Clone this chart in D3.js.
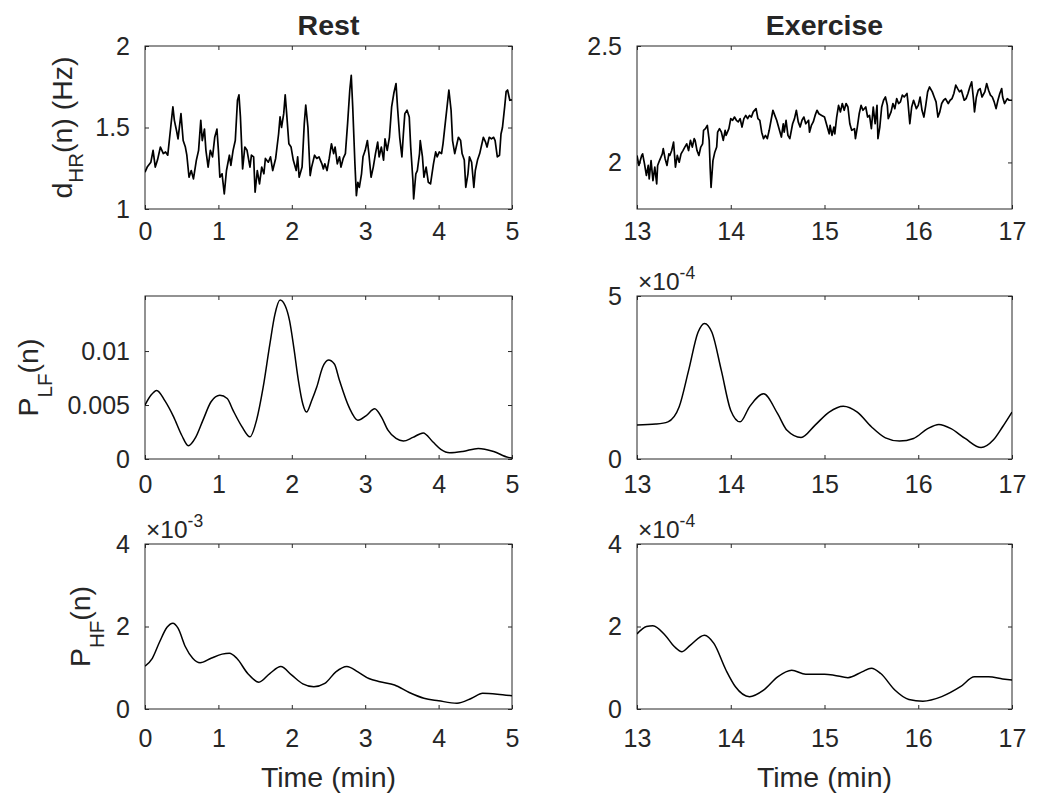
<!DOCTYPE html>
<html>
<head>
<meta charset="utf-8">
<script src="https://cdn.jsdelivr.net/npm/d3@7"></script>
<style>
  body { margin: 0; background: #fff; }
  svg { display: block; }
  text { font-family: Arial, "Liberation Sans", sans-serif; fill: #262626; }
</style>
</head>
<body>
<svg id="chart" width="1041" height="794"></svg>
<script>
// ---- data: [time (min), value] ----
const restHR = [[0,1.226],[0.03,1.257],[0.08,1.287],[0.11,1.36],[0.14,1.257],[0.17,1.30],[0.21,1.38],[0.25,1.34],[0.28,1.35],[0.31,1.33],[0.35,1.50],[0.38,1.626],[0.40,1.544],[0.43,1.48],[0.45,1.43],[0.49,1.585],[0.52,1.42],[0.55,1.38],[0.57,1.33],[0.60,1.195],[0.63,1.236],[0.66,1.185],[0.70,1.30],[0.73,1.36],[0.76,1.544],[0.78,1.42],[0.81,1.49],[0.83,1.36],[0.86,1.257],[0.89,1.36],[0.92,1.32],[0.95,1.44],[0.98,1.49],[1.00,1.36],[1.02,1.195],[1.05,1.216],[1.08,1.092],[1.11,1.236],[1.15,1.33],[1.17,1.267],[1.20,1.36],[1.23,1.42],[1.26,1.667],[1.28,1.70],[1.30,1.565],[1.33,1.246],[1.36,1.38],[1.39,1.36],[1.43,1.257],[1.45,1.33],[1.48,1.32],[1.50,1.103],[1.53,1.236],[1.56,1.154],[1.59,1.257],[1.62,1.216],[1.64,1.31],[1.68,1.287],[1.71,1.32],[1.74,1.236],[1.78,1.31],[1.82,1.46],[1.84,1.565],[1.86,1.50],[1.89,1.585],[1.91,1.70],[1.93,1.585],[1.96,1.40],[1.99,1.38],[2.02,1.30],[2.06,1.236],[2.08,1.32],[2.10,1.195],[2.14,1.257],[2.17,1.524],[2.19,1.637],[2.22,1.50],[2.25,1.205],[2.27,1.257],[2.31,1.33],[2.34,1.31],[2.37,1.32],[2.41,1.277],[2.43,1.246],[2.45,1.277],[2.48,1.236],[2.51,1.31],[2.54,1.40],[2.57,1.34],[2.59,1.38],[2.62,1.277],[2.65,1.32],[2.67,1.257],[2.70,1.31],[2.73,1.34],[2.76,1.524],[2.79,1.73],[2.81,1.82],[2.83,1.626],[2.86,1.277],[2.88,1.082],[2.90,1.164],[2.92,1.133],[2.95,1.216],[2.97,1.32],[3.00,1.36],[3.03,1.42],[3.05,1.34],[3.08,1.195],[3.11,1.257],[3.14,1.34],[3.17,1.41],[3.19,1.32],[3.22,1.38],[3.25,1.30],[3.27,1.43],[3.30,1.36],[3.33,1.44],[3.36,1.626],[3.39,1.71],[3.42,1.77],[3.44,1.626],[3.47,1.44],[3.50,1.32],[3.52,1.46],[3.54,1.585],[3.57,1.606],[3.60,1.565],[3.62,1.38],[3.65,1.175],[3.66,1.062],[3.69,1.216],[3.71,1.236],[3.74,1.34],[3.75,1.42],[3.78,1.32],[3.80,1.195],[3.83,1.257],[3.86,1.164],[3.89,1.154],[3.91,1.216],[3.93,1.277],[3.96,1.35],[3.98,1.32],[4.01,1.35],[4.04,1.34],[4.06,1.40],[4.09,1.524],[4.12,1.647],[4.14,1.73],[4.17,1.606],[4.19,1.42],[4.22,1.34],[4.24,1.38],[4.27,1.44],[4.30,1.42],[4.32,1.34],[4.35,1.30],[4.37,1.133],[4.40,1.216],[4.42,1.32],[4.45,1.287],[4.48,1.133],[4.50,1.236],[4.53,1.30],[4.56,1.34],[4.58,1.38],[4.61,1.44],[4.64,1.41],[4.66,1.38],[4.69,1.44],[4.72,1.43],[4.75,1.44],[4.77,1.42],[4.80,1.32],[4.83,1.33],[4.85,1.46],[4.87,1.50],[4.90,1.626],[4.92,1.72],[4.94,1.73],[4.97,1.667],[5.00,1.67]];

const exHR = [[13.00,2.03],[13.02,1.987],[13.05,2.03],[13.06,2.037],[13.08,1.994],[13.10,1.944],[13.12,1.987],[13.13,1.929],[13.15,2.008],[13.17,1.922],[13.19,1.98],[13.21,1.908],[13.22,1.987],[13.24,2.008],[13.27,2.037],[13.28,2.059],[13.30,2.016],[13.32,1.987],[13.34,2.037],[13.35,2.03],[13.37,2.051],[13.39,2.087],[13.41,1.98],[13.43,2.03],[13.45,2.001],[13.47,2.037],[13.49,2.051],[13.51,2.066],[13.53,2.08],[13.55,2.051],[13.57,2.095],[13.59,2.066],[13.61,2.102],[13.62,2.095],[13.64,2.051],[13.66,2.03],[13.68,2.066],[13.70,2.08],[13.71,2.138],[13.73,2.145],[13.75,2.159],[13.77,2.095],[13.78,1.98],[13.79,1.893],[13.81,2.008],[13.83,2.044],[13.85,2.066],[13.86,2.13],[13.88,2.145],[13.90,2.13],[13.92,2.095],[13.94,2.138],[13.95,2.116],[13.98,2.145],[14.00,2.188],[14.02,2.181],[14.04,2.195],[14.06,2.181],[14.08,2.174],[14.10,2.188],[14.12,2.152],[14.14,2.188],[14.16,2.202],[14.18,2.188],[14.20,2.202],[14.22,2.195],[14.24,2.217],[14.27,2.231],[14.29,2.188],[14.31,2.181],[14.33,2.13],[14.35,2.102],[14.37,2.116],[14.39,2.102],[14.41,2.138],[14.43,2.181],[14.45,2.224],[14.47,2.202],[14.49,2.181],[14.51,2.152],[14.54,2.109],[14.56,2.166],[14.57,2.13],[14.59,2.181],[14.61,2.116],[14.63,2.102],[14.66,2.166],[14.68,2.188],[14.70,2.224],[14.72,2.174],[14.74,2.152],[14.76,2.181],[14.78,2.195],[14.80,2.166],[14.83,2.181],[14.84,2.13],[14.86,2.159],[14.88,2.174],[14.90,2.202],[14.92,2.224],[14.94,2.209],[14.97,2.202],[15.00,2.195],[15.02,2.166],[15.05,2.123],[15.06,2.159],[15.08,2.116],[15.10,2.152],[15.11,2.123],[15.13,2.195],[15.15,2.245],[15.17,2.217],[15.19,2.253],[15.21,2.224],[15.23,2.253],[15.25,2.238],[15.27,2.166],[15.29,2.138],[15.32,2.145],[15.33,2.102],[15.35,2.152],[15.37,2.209],[15.39,2.245],[15.41,2.224],[15.44,2.238],[15.46,2.195],[15.48,2.202],[15.50,2.145],[15.52,2.238],[15.54,2.166],[15.56,2.245],[15.57,2.102],[15.59,2.152],[15.61,2.238],[15.63,2.267],[15.65,2.281],[15.67,2.245],[15.68,2.188],[15.71,2.217],[15.73,2.253],[15.75,2.231],[15.77,2.274],[15.79,2.253],[15.81,2.26],[15.83,2.289],[15.85,2.281],[15.88,2.296],[15.89,2.26],[15.91,2.166],[15.93,2.238],[15.95,2.267],[15.98,2.231],[16.00,2.245],[16.02,2.281],[16.04,2.224],[16.06,2.195],[16.08,2.245],[16.10,2.303],[16.12,2.324],[16.15,2.303],[16.17,2.281],[16.19,2.26],[16.21,2.195],[16.23,2.217],[16.25,2.253],[16.27,2.267],[16.29,2.274],[16.32,2.253],[16.34,2.267],[16.36,2.274],[16.38,2.296],[16.40,2.332],[16.42,2.317],[16.44,2.303],[16.46,2.31],[16.49,2.267],[16.51,2.274],[16.53,2.296],[16.55,2.324],[16.57,2.346],[16.59,2.267],[16.60,2.217],[16.62,2.281],[16.64,2.31],[16.66,2.317],[16.68,2.281],[16.71,2.303],[16.73,2.339],[16.75,2.31],[16.77,2.289],[16.79,2.281],[16.81,2.26],[16.83,2.231],[16.85,2.267],[16.87,2.296],[16.89,2.317],[16.90,2.281],[16.92,2.253],[16.95,2.274],[16.97,2.267],[17.00,2.267]];

const restLF = [[0,0.0050],[0.08,0.0059],[0.16,0.00635],[0.27,0.0054],[0.39,0.0039],[0.50,0.0022],[0.59,0.00123],[0.69,0.0020],[0.79,0.0036],[0.90,0.0053],[1.02,0.0059],[1.12,0.0056],[1.20,0.0045],[1.32,0.0030],[1.43,0.00205],[1.52,0.0036],[1.61,0.00665],[1.70,0.0106],[1.77,0.0134],[1.84,0.01472],[1.91,0.0142],[1.97,0.0128],[2.03,0.0102],[2.09,0.00727],[2.15,0.0051],[2.20,0.00435],[2.27,0.0054],[2.34,0.00666],[2.42,0.0085],[2.50,0.00917],[2.58,0.0088],[2.65,0.00727],[2.78,0.0048],[2.90,0.00359],[3.01,0.0040],[3.13,0.00466],[3.22,0.0039],[3.31,0.00267],[3.42,0.0019],[3.52,0.00166],[3.65,0.0020],[3.79,0.00242],[3.92,0.0016],[4.03,0.0009],[4.15,0.00058],[4.33,0.0007],[4.54,0.00098],[4.75,0.0007],[4.95,0.00015],[5.00,0.0001]];

// exercise LF power, in units of 1e-4
const exLF = [[13.0,1.04],[13.2,1.07],[13.33,1.14],[13.45,1.60],[13.55,2.71],[13.65,3.88],[13.72,4.16],[13.80,3.88],[13.90,2.71],[14.0,1.49],[14.1,1.14],[14.2,1.60],[14.35,2.00],[14.5,1.39],[14.6,0.88],[14.75,0.66],[14.9,1.04],[15.05,1.44],[15.2,1.62],[15.35,1.44],[15.5,0.99],[15.65,0.65],[15.8,0.55],[15.95,0.63],[16.1,0.93],[16.22,1.06],[16.35,0.93],[16.5,0.63],[16.67,0.35],[16.8,0.58],[16.9,0.99],[17.0,1.44]];

// rest HF power, in units of 1e-3
const restHF = [[0,1.04],[0.1,1.23],[0.2,1.63],[0.3,1.98],[0.38,2.08],[0.45,1.96],[0.55,1.51],[0.65,1.23],[0.75,1.12],[0.9,1.23],[1.05,1.33],[1.15,1.35],[1.25,1.23],[1.4,0.86],[1.55,0.65],[1.7,0.86],[1.85,1.03],[2.0,0.82],[2.15,0.61],[2.3,0.54],[2.45,0.62],[2.6,0.90],[2.75,1.03],[2.9,0.90],[3.05,0.74],[3.2,0.66],[3.4,0.58],[3.6,0.40],[3.8,0.26],[4.0,0.20],[4.25,0.14],[4.45,0.26],[4.6,0.38],[4.8,0.36],[5.0,0.32]];

// exercise HF power, in units of 1e-4
const exHF = [[13.0,1.82],[13.1,2.00],[13.17,2.02],[13.3,1.79],[13.4,1.51],[13.48,1.39],[13.57,1.55],[13.72,1.79],[13.82,1.59],[13.95,0.94],[14.05,0.54],[14.2,0.30],[14.35,0.46],[14.5,0.78],[14.65,0.94],[14.8,0.84],[15.0,0.84],[15.1,0.82],[15.25,0.76],[15.4,0.90],[15.5,0.99],[15.6,0.86],[15.75,0.46],[15.9,0.23],[16.05,0.19],[16.25,0.30],[16.45,0.54],[16.6,0.78],[16.75,0.78],[16.9,0.73],[17.0,0.70]];

const restXTicks = [0, 1, 2, 3, 4, 5];
const exXTicks = [13, 14, 15, 16, 17];
const titles = ["Rest", "Exercise"];

// ---- layout ----
const svg = d3.select("#chart");
const tickFont = 25, labelFont = 28.5;
const cols = [{ x0: 145, x1: 512 }, { x0: 637, x1: 1012 }];
const rows = [
  { y0: 46, y1: 209, xPad: 13 },
  { y0: 296, y1: 459, xPad: 16 },
  { y0: 544, y1: 709, xPad: 20 }
];

const panels = [
  { r: 0, c: 0, data: restHR, xd: [0, 5], yd: [1, 2], xt: restXTicks, yt: [1, 1.5, 2], curve: d3.curveLinear, lw: 1.7,
    ylab: ["d", "HR", "(n) (Hz)"], labX: 72, sub: 11 },
  { r: 0, c: 1, data: exHR, xd: [13, 17], yd: [1.8, 2.5], xt: exXTicks, yt: [2, 2.5], curve: d3.curveLinear, lw: 1.7 },
  { r: 1, c: 0, data: restLF, xd: [0, 5], yd: [0, 0.0151], xt: restXTicks, yt: [0, 0.005, 0.01], curve: d3.curveMonotoneX, lw: 1.5,
    ylab: ["P", "LF", "(n)"], labX: 38, sub: 14 },
  { r: 1, c: 1, data: exLF, xd: [13, 17], yd: [0, 5], xt: exXTicks, yt: [0, 5], curve: d3.curveMonotoneX, lw: 1.5, exp: "-4" },
  { r: 2, c: 0, data: restHF, xd: [0, 5], yd: [0, 4], xt: restXTicks, yt: [0, 2, 4], curve: d3.curveMonotoneX, lw: 1.5,
    ylab: ["P", "HF", "(n)"], labX: 90, sub: 14, exp: "-3" },
  { r: 2, c: 1, data: exHF, xd: [13, 17], yd: [0, 4], xt: exXTicks, yt: [0, 2, 4], curve: d3.curveMonotoneX, lw: 1.5, exp: "-4" }
];

const fmt = d3.format("~g");

panels.forEach((p, i) => {
  const col = cols[p.c], row = rows[p.r];
  const x = d3.scaleLinear().domain(p.xd).range([col.x0, col.x1]);
  const y = d3.scaleLinear().domain(p.yd).range([row.y1, row.y0]);
  const g = svg.append("g");

  g.append("clipPath").attr("id", "clip" + i)
    .append("rect").attr("x", col.x0).attr("y", row.y0)
    .attr("width", col.x1 - col.x0).attr("height", row.y1 - row.y0);

  // axes with inward ticks on all four sides
  const ax = [
    g.append("g").attr("transform", `translate(0,${row.y1})`)
      .call(d3.axisBottom(x).tickValues(p.xt).tickFormat(fmt).tickSizeInner(-4).tickSizeOuter(0).tickPadding(row.xPad)),
    g.append("g").attr("transform", `translate(0,${row.y0})`)
      .call(d3.axisTop(x).tickValues(p.xt).tickFormat("").tickSizeInner(-4).tickSizeOuter(0)),
    g.append("g").attr("transform", `translate(${col.x0},0)`)
      .call(d3.axisLeft(y).tickValues(p.yt).tickFormat(fmt).tickSizeInner(-4).tickSizeOuter(0).tickPadding(15)),
    g.append("g").attr("transform", `translate(${col.x1},0)`)
      .call(d3.axisRight(y).tickValues(p.yt).tickFormat("").tickSizeInner(-4).tickSizeOuter(0))
  ];
  ax.forEach(a => {
    a.select(".domain").remove();
    a.selectAll("line").attr("stroke", "#262626");
    a.selectAll("text").attr("font-size", tickFont).attr("fill", "#262626")
      .style("font-family", "Arial, 'Liberation Sans', sans-serif");
  });

  g.append("rect")
    .attr("x", col.x0).attr("y", row.y0)
    .attr("width", col.x1 - col.x0).attr("height", row.y1 - row.y0)
    .attr("fill", "none").attr("stroke", "#262626").attr("stroke-width", 1);

  const line = d3.line().x(d => x(d[0])).y(d => y(d[1])).curve(p.curve);
  g.append("path").datum(p.data)
    .attr("clip-path", `url(#clip${i})`)
    .attr("d", line)
    .attr("fill", "none").attr("stroke", "#000")
    .attr("stroke-width", p.lw).attr("stroke-linejoin", "round");

  if (p.exp) {
    const t = g.append("text").attr("x", col.x0 + 1).attr("y", row.y0 - 6).attr("font-size", 24.5);
    t.append("tspan").text("\u00d710");
    t.append("tspan").attr("font-size", 17.5).attr("dy", -11).text(p.exp);
  }

  if (p.ylab) {
    const cy = (row.y0 + row.y1) / 2;
    const t = g.append("text")
      .attr("transform", `translate(${p.labX},${cy}) rotate(-90)`)
      .attr("text-anchor", "middle").attr("font-size", labelFont);
    t.append("tspan").text(p.ylab[0]);
    t.append("tspan").attr("font-size", 20.5).attr("dy", p.sub).text(p.ylab[1]);
    t.append("tspan").attr("dy", -p.sub).text(p.ylab[2]);
  }

  if (p.r === 0) {
    g.append("text").attr("x", (col.x0 + col.x1) / 2).attr("y", 35)
      .attr("text-anchor", "middle").attr("font-size", labelFont).attr("font-weight", "bold")
      .attr("fill", "#000").text(titles[p.c]);
  }
  if (p.r === 2) {
    g.append("text").attr("x", (col.x0 + col.x1) / 2).attr("y", 787)
      .attr("text-anchor", "middle").attr("font-size", labelFont).text("Time (min)");
  }
});
</script>
</body>
</html>
